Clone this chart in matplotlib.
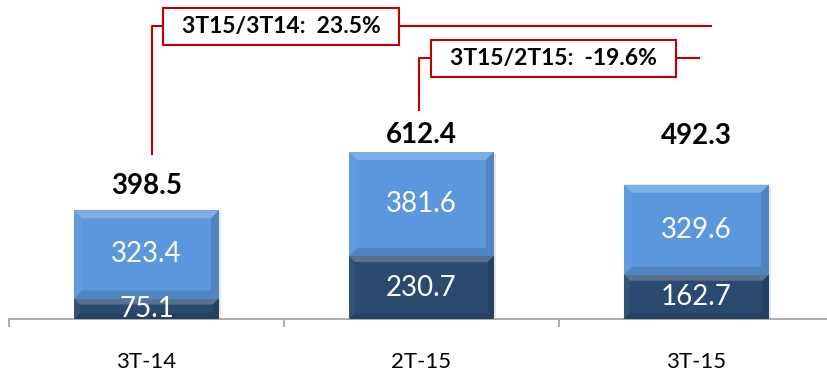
import numpy as np
import matplotlib.pyplot as plt
from matplotlib.patches import Polygon, Rectangle
from matplotlib.colors import to_rgb

plt.rcParams['font.family'] = ['Lato', 'DejaVu Sans']

# quarterly values, two stacked components plus the total
categories = ["3T-14", "2T-15", "3T-15"]
lower = [75.1, 230.7, 162.7]
upper = [323.4, 381.6, 329.6]
totals = [398.5, 612.4, 492.3]
growth_labels = ["3T15/3T14:  23.5%", "3T15/2T15:  -19.6%"]

light_blue = "#5b97dc"
dark_blue = "#2a4a6f"
red = "#c00000"


def mix(c, other, f):
    c = np.array(to_rgb(c))
    return tuple(c + (np.array(other) - c) * f)


def bevel(ax, patch, color, dx, dy):
    # fake 3D bevel: lighter top/left edges, darker bottom/right edges
    x0, y0 = patch.get_x(), patch.get_y()
    x1, y1 = x0 + patch.get_width(), y0 + patch.get_height()
    top = [(x0, y1), (x1, y1), (x1 - dx, y1 - dy), (x0 + dx, y1 - dy)]
    bot = [(x0, y0), (x1, y0), (x1 - dx, y0 + dy), (x0 + dx, y0 + dy)]
    left = [(x0, y0), (x0 + dx, y0 + dy), (x0 + dx, y1 - dy), (x0, y1)]
    right = [(x1, y0), (x1 - dx, y0 + dy), (x1 - dx, y1 - dy), (x1, y1)]
    ax.add_patch(Polygon(top, closed=True, color=mix(color, (1, 1, 1), 0.22), lw=0, zorder=3))
    ax.add_patch(Polygon(bot, closed=True, color=mix(color, (0, 0, 0), 0.12), lw=0, zorder=3))
    ax.add_patch(Polygon(left, closed=True, color=mix(color, (1, 1, 1), 0.05), lw=0, zorder=3))
    ax.add_patch(Polygon(right, closed=True, color=mix(color, (0, 0, 0), 0.12), lw=0, zorder=3))


fig = plt.figure(figsize=(8.27, 3.71), dpi=100)
ax = fig.add_axes([9 / 827, 52 / 371, 818 / 827, 319 / 371])

x = np.arange(len(categories))
width = 0.527
ax.set_xlim(-0.5, 2.475)
ax.set_ylim(0, 1170)

# pixel -> data unit conversion for the bevel depth
px_x = 2.975 / 818
px_y = 1170 / 319

bars_lo = ax.bar(x, lower, width, color=dark_blue, zorder=2)
bars_hi = ax.bar(x, upper, width, bottom=lower, color=light_blue, zorder=2)

for b_lo, b_hi in zip(bars_lo, bars_hi):
    # soft shadow to the lower right
    ax.add_patch(Rectangle((b_lo.get_x() + 2 * px_x, -10), b_lo.get_width(),
                           b_hi.get_y() + b_hi.get_height() + 10 - 2 * px_y,
                           color="#b8b8b8", alpha=0.35, lw=0, zorder=1))
    bevel(ax, b_lo, dark_blue, 6 * px_x, 6 * px_y)
    bevel(ax, b_hi, light_blue, 8 * px_x, 8 * px_y)

# segment values and totals (totals sit at uneven heights above the bars)
total_gap = [12, 6.5, 29]
for i in range(len(categories)):
    ax.text(x[i], lower[i] / 2, f"{lower[i]:.1f}", ha="center", va="center",
            color="white", fontsize=20, zorder=5)
    ax.text(x[i], lower[i] + upper[i] / 2, f"{upper[i]:.1f}", ha="center", va="center",
            color="white", fontsize=20, zorder=5)
    ax.annotate(f"{totals[i]:.1f}", (x[i], totals[i]), xytext=(0, total_gap[i]),
                textcoords="offset points", ha="center", va="baseline",
                fontsize=20, fontweight="bold", color="black")

# growth brackets
ax.plot([0.02, 0.02, 2.053], [605, 1074, 1074], color=red, lw=1.5, clip_on=False)
ax.plot([0.991, 0.991, 2.009], [765, 957, 957], color=red, lw=1.5, clip_on=False)
box = dict(boxstyle="square,pad=0.35", fc="white", ec=red, lw=1.5)
ax.text(0.489, 1074, "  " + growth_labels[0] + "  ", ha="center", va="center",
        fontsize=16.5, fontweight="bold", bbox=box, zorder=6)
ax.text(1.48, 957, "  " + growth_labels[1] + "  ", ha="center", va="center",
        fontsize=16.5, fontweight="bold", bbox=box, zorder=6)

# axis: only the baseline with boundary ticks
for s in ["top", "left", "right"]:
    ax.spines[s].set_visible(False)
ax.spines["bottom"].set_color("#a0a0a0")
ax.spines["bottom"].set_linewidth(1.2)
ax.set_yticks([])
ax.set_xticks([-0.5, 0.5, 1.5])
ax.set_xticklabels([])
ax.set_xticks(x, minor=True)
ax.set_xticklabels(categories, minor=True, fontsize=16)
ax.tick_params(axis="x", which="major", direction="out", length=6, width=1.2, color="#a0a0a0")
ax.tick_params(axis="x", which="minor", length=0, pad=24)

fig.savefig("out.png", dpi=100)
